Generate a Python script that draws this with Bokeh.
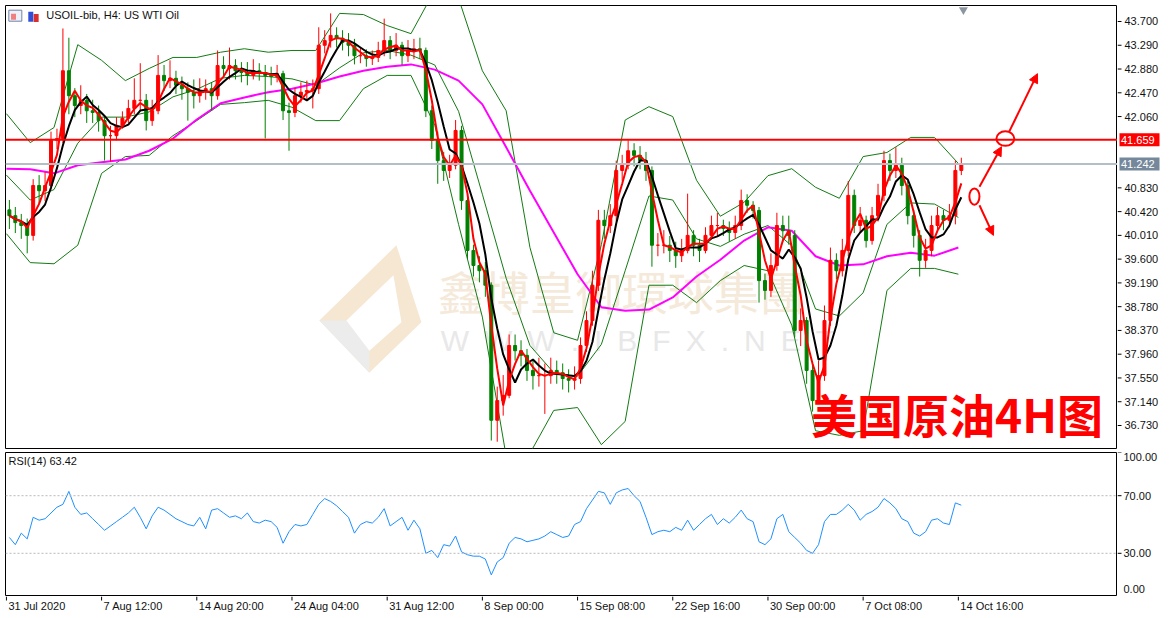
import numpy as np
import pandas as pd
from bokeh.plotting import figure
from bokeh.models import (Range1d, Span, Label, Arrow, NormalHead, ColumnDataSource)
from bokeh.layouts import column, row
from bokeh.core.properties import value
from bokeh.embed import file_html
from bokeh.resources import INLINE

# ---------------- data (USOIL 4H, each candle = two 4H bars) ----------------
opens = [
    40.45, 40.35, 40.23, 40.18, 40.01, 40.87, 40.78, 40.87, 41.65, 41.68,
    42.85, 42.42, 42.25, 42.34, 42.16, 42.13, 41.99, 41.73, 41.73, 41.91,
    42.03, 42.20, 42.34, 42.34, 41.99, 42.16, 42.77, 42.68, 42.72, 42.60,
    42.54, 42.48, 42.42, 42.51, 42.54, 42.42, 42.94, 42.89, 42.94, 42.85,
    42.82, 42.77, 42.85, 42.82, 42.77, 42.75, 42.80, 42.16, 42.13, 42.42,
    42.48, 42.51, 42.54, 43.29, 43.37, 43.46, 43.41, 43.34, 43.29, 43.11,
    43.11, 43.06, 43.08, 43.20, 43.37, 43.20, 43.29, 43.11, 43.20, 43.23,
    43.20, 42.16, 41.65, 41.30, 41.13, 41.22, 41.82, 40.61, 39.75, 39.49,
    39.40, 39.15, 36.82, 37.16, 37.25, 38.11, 38.02, 37.94, 37.68, 37.59,
    37.59, 37.59, 37.68, 37.64, 37.54, 37.51, 37.54, 38.11, 38.54, 39.15,
    40.27, 40.18, 40.35, 41.13, 41.22, 41.47, 41.39, 41.30, 41.13, 39.84,
    39.84, 39.84, 39.75, 39.66, 39.75, 40.01, 39.84, 39.75, 40.01, 40.18,
    40.18, 40.13, 40.06, 40.18, 40.61, 40.53, 40.44, 39.23, 39.06, 39.49,
    40.18, 40.09, 40.01, 38.37, 38.54, 37.68, 37.16, 37.59, 38.54, 39.58,
    39.40, 39.75, 40.70, 40.18, 40.27, 39.92, 40.35, 40.70, 41.30, 41.13,
    41.22, 40.87, 40.35, 40.01, 39.58, 39.75, 40.18, 40.35, 40.27, 40.35,
    41.13,
]
highs = [
    40.62, 40.50, 40.38, 40.30, 40.98, 41.05, 41.10, 41.80, 41.85, 43.58,
    43.42, 42.55, 42.60, 42.45, 42.35, 42.25, 42.05, 41.90, 42.05, 42.15,
    42.35, 42.72, 42.98, 42.45, 42.35, 43.12, 42.95, 43.03, 42.85, 42.75,
    42.65, 42.70, 42.72, 42.70, 42.65, 43.20, 43.10, 43.25, 43.05, 43.00,
    43.00, 43.05, 42.98, 42.95, 42.92, 42.95, 42.85, 42.30, 42.55, 42.65,
    42.68, 42.70, 43.60, 43.55, 43.84, 43.60, 43.55, 43.50, 43.40, 43.25,
    43.22, 43.20, 43.35, 43.75, 43.45, 43.50, 43.35, 43.38, 43.40, 43.42,
    43.25, 42.25, 41.80, 41.45, 41.40, 42.00, 41.90, 40.70, 39.85, 39.65,
    39.55, 39.20, 37.40, 37.60, 38.30, 38.30, 38.20, 38.05, 37.85, 37.90,
    37.80, 37.90, 37.85, 37.80, 37.70, 37.75, 38.25, 38.70, 39.40, 40.45,
    40.45, 40.55, 41.30, 41.40, 41.65, 41.60, 41.55, 41.45, 41.20, 40.05,
    40.10, 40.00, 39.90, 39.95, 40.73, 40.10, 39.95, 40.15, 40.35, 40.40,
    40.28, 40.25, 40.35, 40.80, 40.72, 40.60, 40.50, 39.35, 39.70, 40.40,
    40.35, 40.35, 40.10, 38.75, 38.60, 37.80, 37.85, 38.80, 39.80, 39.70,
    39.95, 40.95, 40.80, 40.50, 40.35, 40.50, 40.90, 41.47, 41.42, 41.53,
    41.35, 40.95, 40.45, 40.10, 39.95, 40.35, 40.50, 40.45, 40.55, 41.30,
    41.35,
]
lows = [
    40.12, 40.05, 39.95, 39.70, 39.92, 40.55, 40.60, 40.80, 41.50, 41.60,
    42.10, 42.05, 42.10, 41.95, 41.95, 41.80, 41.30, 41.28, 41.65, 41.85,
    41.95, 42.10, 42.15, 41.82, 41.90, 42.10, 42.50, 42.55, 42.45, 42.35,
    41.99, 42.20, 42.30, 42.35, 42.16, 42.35, 42.75, 42.70, 42.70, 42.65,
    42.60, 42.70, 42.68, 41.68, 42.60, 42.65, 42.00, 41.47, 42.05, 42.30,
    42.35, 42.20, 42.45, 43.15, 43.25, 43.25, 43.20, 43.10, 42.96, 42.98,
    42.92, 42.95, 43.00, 43.10, 43.05, 43.10, 42.95, 43.00, 43.05, 43.05,
    42.05, 41.50, 40.90, 40.95, 41.00, 41.15, 40.45, 39.60, 39.30, 39.20,
    38.95, 36.47, 36.45, 36.90, 37.20, 37.85, 37.75, 37.50, 37.35, 37.40,
    36.93, 37.45, 37.45, 37.35, 37.30, 37.35, 37.45, 38.00, 38.45, 39.05,
    39.95, 40.05, 40.25, 40.95, 41.15, 41.20, 41.15, 40.95, 39.47, 39.65,
    39.70, 39.55, 39.45, 39.55, 39.70, 39.65, 39.55, 39.70, 39.95, 40.00,
    40.00, 39.90, 39.95, 40.10, 40.40, 40.30, 38.85, 38.90, 38.95, 39.40,
    39.90, 39.85, 38.25, 38.10, 37.45, 36.97, 37.10, 37.50, 38.45, 39.25,
    39.30, 39.65, 40.05, 40.05, 39.80, 39.85, 40.25, 40.60, 40.95, 41.00,
    40.70, 40.20, 39.80, 39.30, 39.45, 39.65, 40.10, 40.10, 40.15, 40.20,
    41.05,
]
closes = [
    40.35, 40.23, 40.18, 40.01, 40.87, 40.78, 40.87, 41.65, 41.68, 42.85,
    42.42, 42.25, 42.34, 42.16, 42.13, 41.99, 41.73, 41.73, 41.91, 42.03,
    42.20, 42.34, 42.34, 41.99, 42.16, 42.77, 42.68, 42.72, 42.60, 42.54,
    42.48, 42.42, 42.51, 42.54, 42.42, 42.94, 42.89, 42.94, 42.85, 42.82,
    42.77, 42.85, 42.82, 42.77, 42.75, 42.80, 42.16, 42.13, 42.42, 42.48,
    42.51, 42.54, 43.29, 43.37, 43.46, 43.41, 43.34, 43.29, 43.11, 43.11,
    43.06, 43.08, 43.20, 43.37, 43.20, 43.29, 43.11, 43.20, 43.23, 43.20,
    42.16, 41.65, 41.30, 41.13, 41.22, 41.82, 40.61, 39.75, 39.49, 39.40,
    39.15, 36.82, 37.16, 37.25, 38.11, 38.02, 37.94, 37.68, 37.59, 37.59,
    37.59, 37.68, 37.64, 37.54, 37.51, 37.54, 38.11, 38.54, 39.15, 40.27,
    40.18, 40.35, 41.13, 41.22, 41.47, 41.39, 41.30, 41.13, 39.84, 39.84,
    39.84, 39.75, 39.66, 39.75, 40.01, 39.84, 39.75, 40.01, 40.18, 40.18,
    40.13, 40.06, 40.18, 40.61, 40.53, 40.44, 39.23, 39.06, 39.49, 40.18,
    40.09, 40.01, 38.37, 38.54, 37.68, 37.16, 37.59, 38.54, 39.58, 39.40,
    39.75, 40.70, 40.18, 40.27, 39.92, 40.35, 40.70, 41.30, 41.13, 41.22,
    40.87, 40.35, 40.01, 39.58, 39.75, 40.18, 40.35, 40.27, 40.35, 41.13,
    41.24,
]
rsi14 = [
    41, 36, 44, 40, 55, 53, 54, 58, 62, 64,
    73, 62, 57, 58, 54, 50, 46, 49, 52, 55,
    58, 62, 55, 47, 56, 62, 60, 57, 54, 52,
    50, 49, 55, 47, 60, 61, 58, 55, 56, 54,
    58, 52, 51, 53, 52, 48, 37, 45, 50, 49,
    50, 57, 64, 68, 66, 63, 59, 55, 44, 50,
    52, 51, 55, 61, 49, 52, 55, 46, 53, 47,
    30, 32, 27, 36, 35, 42, 31, 29, 28, 28,
    26, 15, 24, 27, 37, 41, 40, 38, 39, 40,
    42, 45, 43, 41, 42, 50, 52, 61, 67, 73,
    72, 64, 72, 74, 75, 70, 66, 55, 43, 45,
    46, 45, 48, 46, 53, 46, 50, 54, 57, 50,
    54, 51, 55, 60, 54, 52, 38, 36, 40, 54,
    57, 45, 41, 37, 32, 30, 36, 52, 57, 57,
    60, 64, 60, 53, 57, 59, 62, 68, 65, 61,
    54, 52, 44, 42, 45, 53, 54, 51, 50, 65,
    63.42,
]
# indicator lines sampled every 8 bars (4H)
bb_upper = [
    42.11, 41.61, 41.87, 43.30, 43.03, 42.68, 42.89, 43.08, 43.08, 43.17,
    43.23, 43.17, 43.20, 43.20, 43.84, 43.82, 43.63, 43.49, 44.24, 44.10,
    42.85, 42.16, 39.80, 38.33, 38.20, 39.85, 42.00, 42.23, 42.06, 40.96,
    40.34, 40.58, 41.04, 41.16, 40.84, 40.65, 41.37, 41.44, 41.70, 41.70,
    41.25,
]
bb_mid = [
    41.05, 40.62, 40.80, 41.60, 42.05, 42.05, 42.14, 42.40, 42.53, 42.72,
    42.77, 42.75, 42.71, 42.60, 42.90, 43.16, 43.20, 43.12, 42.95, 42.15,
    40.72, 39.27, 38.11, 37.64, 37.58, 38.13, 39.40, 40.69, 40.62, 39.95,
    39.82, 40.03, 40.18, 39.83, 38.74, 38.62, 39.02, 40.20, 40.57, 40.55,
    40.32,
]
bb_lower = [
    40.04, 39.54, 39.52, 39.84, 41.08, 41.37, 41.39, 41.73, 41.99, 42.27,
    42.30, 42.34, 42.22, 41.99, 41.99, 42.54, 42.77, 42.77, 41.91, 40.20,
    38.60, 36.20, 36.25, 36.99, 37.04, 36.40, 36.80, 39.15, 39.15, 38.85,
    39.23, 39.49, 39.40, 38.46, 36.64, 36.56, 36.64, 39.06, 39.44, 39.44,
    39.34,
]
ma_long = [
    41.16, 41.15, 41.08, 41.22, 41.27, 41.32, 41.47, 41.68, 42.01, 42.29,
    42.39, 42.48, 42.54, 42.63, 42.75, 42.85, 42.92, 42.96, 42.87, 42.68,
    42.27, 41.53, 40.78, 40.06, 39.34, 38.77, 38.71, 38.73, 38.94, 39.30,
    39.59, 39.92, 40.15, 40.09, 39.65, 39.49, 39.51, 39.65, 39.71, 39.66,
    39.80,
]
price_ticks = [43.700, 43.290, 42.880, 42.470, 42.060, 40.830, 40.420, 40.010,
               39.600, 39.190, 38.780, 38.370, 37.960, 37.550, 37.140, 36.730]
rsi_levels = [100, 70, 30, 0]
time_labels = ["31 Jul 2020", "7 Aug 12:00", "14 Aug 20:00", "24 Aug 04:00", "31 Aug 12:00",
               "8 Sep 00:00", "15 Sep 08:00", "22 Sep 16:00", "30 Sep 00:00", "7 Oct 08:00",
               "14 Oct 16:00"]
resistance = 41.659
last_bid = 41.242
title_text = "USOIL-bib, H4:  US WTI Oil"
rsi_title = "RSI(14) 63.42"
big_note = "美国原油4H图"
watermark_cn = "鑫博皇御環球集團"
watermark_en = "\u2002".join("WWW.IBFX.NET")

# ---------------- derived ----------------
n = len(closes)
bars = [2 * k + 1 for k in range(n)]
band_bars = [8 * j for j in range(len(bb_upper))]
tick_bars = [32 * i for i in range(len(time_labels))]

BULL, BEAR = "#ff0000", "#008000"
df = pd.DataFrame(dict(bar=bars, open=opens, high=highs, low=lows, close=closes))
df["top"] = df[["open", "close"]].max(axis=1)
df["bottom"] = df[["open", "close"]].min(axis=1)
df["color"] = np.where(df["close"] >= df["open"], BULL, BEAR)
df["ma_fast"] = df["close"].rolling(3, min_periods=1).mean()
df["ma_slow"] = df["close"].rolling(5, min_periods=1).mean()
src = ColumnDataSource(df)

FONT = "Liberation Sans"
TXT = "#111111"
xr = Range1d(-0.3, 373.5)
yr = Range1d(36.333, 43.976)


def base_fig(w, h, x_range, y_range, top, bottom, left, right, outline="black"):
    f = figure(width=w, height=h, x_range=x_range, y_range=y_range,
               output_backend="svg", toolbar_location=None,
               x_axis_location=None, y_axis_location=None,
               min_border_left=left, min_border_right=right,
               min_border_top=top, min_border_bottom=bottom,
               outline_line_color=outline, outline_line_width=1,
               background_fill_color="white", border_fill_color="white")
    f.xgrid.visible = False
    f.ygrid.visible = False
    return f


# ---------------- main price panel ----------------
p = base_fig(1117, 450, xr, yr, 5, 2, 5, 0)

# watermark (logo + brand)
p.patch([105.2, 131.1, 139.5, 122.0], [38.54, 39.84, 38.51, 37.64],
        fill_color="#f6e7d2", line_color=None, level="underlay")
p.patch([105.2, 114.3, 122.0, 122.0], [38.54, 38.54, 38.02, 37.64],
        fill_color="#ececec", line_color=None, level="underlay")
p.patch([114.3, 130.1, 132.8, 122.0], [38.54, 39.32, 38.51, 38.02],
        fill_color="white", line_color=None, level="underlay")
p.add_layout(Label(x=145, y=39.06, text=watermark_cn, text_font="Noto Sans CJK TC",
                   text_font_size="46px", text_color="#f5e9da", text_baseline="middle",
                   level="underlay"))
p.add_layout(Label(x=146, y=38.20, text=watermark_en, text_font=FONT,
                   text_font_size="30px", text_color="#e8e8e8", text_baseline="middle",
                   level="underlay"))

GREEN = "#137a13"
p.line(band_bars, bb_upper, line_color=GREEN, line_width=1)
p.line(band_bars, bb_mid, line_color=GREEN, line_width=1)
p.line(band_bars, bb_lower, line_color=GREEN, line_width=1)
p.line(band_bars, ma_long, line_color="#ff00ff", line_width=2)

p.segment(x0="bar", y0="high", x1="bar", y1="low", line_color="color", line_width=1, source=src)
p.vbar(x="bar", width=1.0, top="top", bottom="bottom", fill_color="color", line_color="color",
       source=src)
p.line("bar", "ma_slow", line_color="black", line_width=2, source=src)
p.line("bar", "ma_fast", line_color="#ff0000", line_width=2, source=src)

p.add_layout(Span(location=last_bid, dimension="width", line_color="#b4bec8", line_width=2))
p.add_layout(Span(location=resistance, dimension="width", line_color="#ff0000", line_width=2))

# chart caption with window icons
p.rect(x=[3.0], y=[43.80], width=13, height=11, width_units="screen", height_units="screen",
       fill_color="#eef2f8", line_color="#7083a8")
p.rect(x=[2.4], y=[43.78], width=5, height=6, width_units="screen", height_units="screen",
       fill_color="#f08080", line_color=None)
p.rect(x=[8.2], y=[43.78], width=5, height=10, width_units="screen", height_units="screen",
       fill_color="#2f4fd8", line_color=None)
p.rect(x=[10.0], y=[43.76], width=5, height=8, width_units="screen", height_units="screen",
       fill_color="#d83030", line_color=None)
p.add_layout(Label(x=13.4, y=43.82, text=title_text, text_font=FONT, text_font_size="11px",
                   text_color=TXT, text_baseline="middle"))
p.scatter(x=[321.7], y=[43.90], marker="inverted_triangle", size=9,
          fill_color="#8c96a0", line_color=None)

# analyst annotation
p.ellipse(x=[325.4], y=[40.68], width=[3.4], height=[0.28], fill_alpha=0,
          line_color="#ff0000", line_width=2)
p.ellipse(x=[335.8], y=[41.68], width=[6.0], height=[0.25], fill_alpha=0,
          line_color="#ff0000", line_width=2)
for xs, ys, xe, ye in [(327.1, 40.85, 334.5, 41.54), (337.1, 41.80, 346.6, 42.80),
                       (327.1, 40.53, 331.8, 40.01)]:
    p.add_layout(Arrow(end=NormalHead(size=9, fill_color="#ff0000", line_color="#ff0000"),
                       x_start=xs, y_start=ys, x_end=xe, y_end=ye,
                       line_color="#ff0000", line_width=2))

p.add_layout(Label(x=270.5, y=36.94, text=big_note, text_font="Noto Sans CJK SC",
                   text_font_size="46px", text_font_style="bold", text_color="#ff0000",
                   text_baseline="middle"))

# ---------------- price scale (right) ----------------
pa = base_fig(53, 450, Range1d(0, 53), yr, 5, 2, 0, 0, outline=None)
pa.segment(x0=[0] * len(price_ticks), y0=price_ticks, x1=[4] * len(price_ticks), y1=price_ticks,
           line_color="black", line_width=1)
pa.text(x=[7] * len(price_ticks), y=price_ticks, text=["%.3f" % t for t in price_ticks],
        text_font=value(FONT), text_font_size="11px", text_color=TXT,
        text_baseline="middle", text_align="left")
pa.rect(x=[22.0, 22.0], y=[resistance, last_bid], width=40, height=13, height_units="screen",
        fill_color=["#ff0000", "#75879a"], line_color=None)
pa.text(x=[3.5, 3.5], y=[resistance, last_bid], text=["%.3f" % resistance, "%.3f" % last_bid],
        text_font=value(FONT), text_font_size="11px", text_color="white",
        text_baseline="middle", text_align="left")

# ---------------- RSI panel ----------------
ryr = Range1d(0, 100)
r = base_fig(1117, 146, xr, ryr, 2, 0, 5, 0)
for lvl in (30, 70):
    r.add_layout(Span(location=lvl, dimension="width", line_color="#b8b8b8",
                      line_dash="2 2", line_width=1))
r.line(bars, rsi14, line_color="#1e90ff", line_width=1)
r.add_layout(Label(x=0.7, y=94.4, text=rsi_title, text_font=FONT, text_font_size="11px",
                   text_color=TXT, text_baseline="middle"))

ra = base_fig(53, 146, Range1d(0, 53), ryr, 2, 0, 0, 0, outline=None)
ra.segment(x0=[0] * len(rsi_levels), y0=rsi_levels, x1=[4] * len(rsi_levels), y1=rsi_levels,
           line_color="black", line_width=1)
for lvl, base, nudge in zip(rsi_levels, ["top", "middle", "middle", "bottom"], [-0.5, 0, 0, 2.5]):
    ra.text(x=[6], y=[lvl + nudge], text=["%.2f" % lvl], text_font=value(FONT),
            text_font_size="11px", text_color=TXT, text_baseline=base, text_align="left")

# ---------------- time scale (bottom) ----------------
ts = base_fig(1117, 22, xr, Range1d(0, 22), 0, 0, 5, 0, outline=None)
ts.segment(x0=tick_bars, y0=[22] * len(tick_bars), x1=tick_bars, y1=[18] * len(tick_bars),
           line_color="black", line_width=1)
ts.text(x=tick_bars, y=[13] * len(tick_bars), text=time_labels, x_offset=2,
        text_font=value(FONT), text_font_size="11px", text_color=TXT,
        text_baseline="middle", text_align="left")

layout = column(row(p, pa), row(r, ra), ts)
open("out.html", "w").write(file_html(layout, INLINE, title="USOIL H4"))
